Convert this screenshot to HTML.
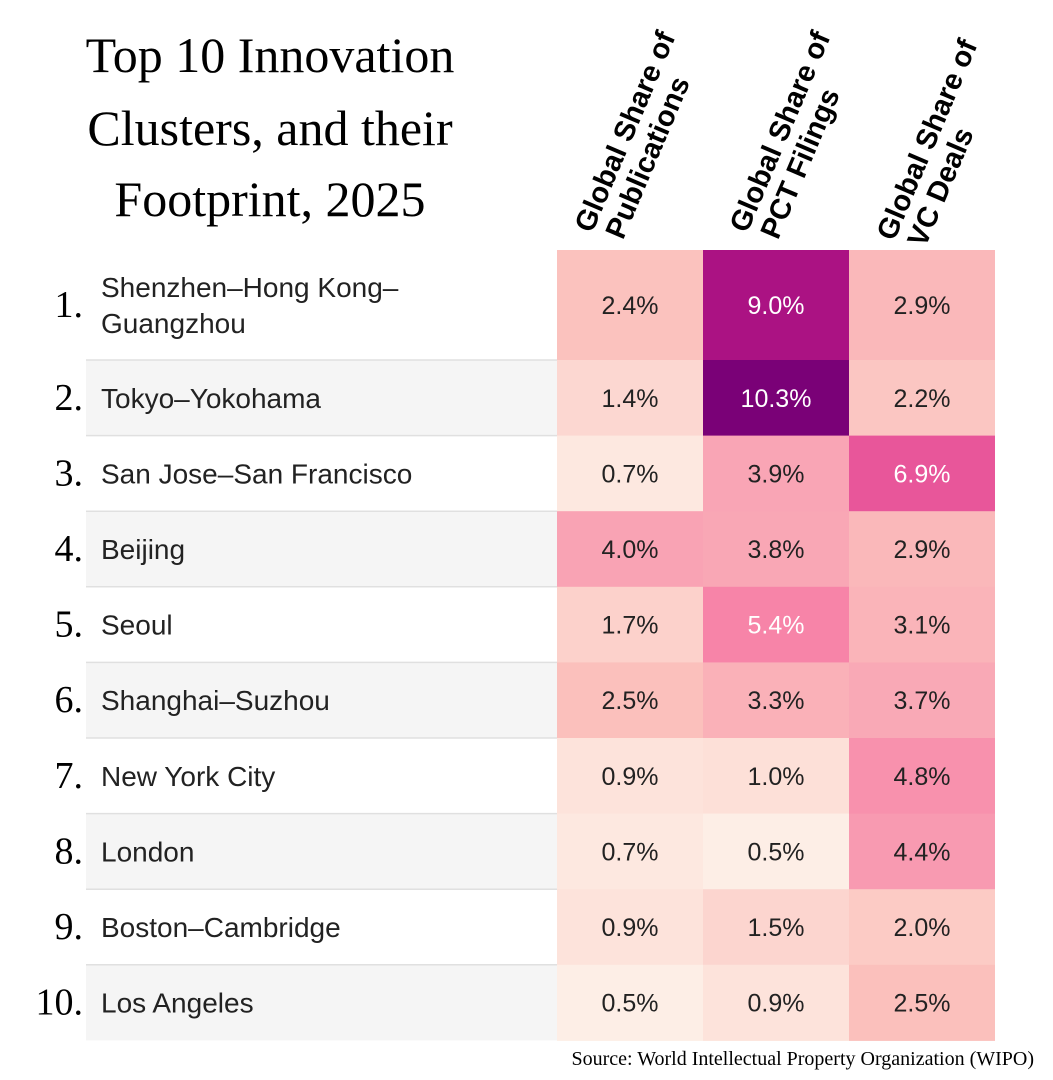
<!DOCTYPE html>
<html><head><meta charset="utf-8">
<style>
body{margin:0;background:#fff;}
svg{display:block}
</style></head>
<body>
<svg id="chart" width="1053" height="1080" xmlns="http://www.w3.org/2000/svg">
<g font-family="Liberation Serif, serif" font-size="50" fill="#000" text-anchor="middle">
<text x="270" y="72">Top 10 Innovation</text>
<text x="270" y="145">Clusters, and their</text>
<text x="270" y="216">Footprint, 2025</text>
</g>
<g id="rows"></g>
<g id="headers"></g>
<text x="1034" y="1065" text-anchor="end" font-family="Liberation Serif, serif" font-size="20" fill="#000">Source: World Intellectual Property Organization (WIPO)</text>
</svg>
<script>
const clusters = ["Shenzhen\u2013Hong Kong\u2013|Guangzhou","Tokyo\u2013Yokohama","San Jose\u2013San Francisco","Beijing","Seoul","Shanghai\u2013Suzhou","New York City","London","Boston\u2013Cambridge","Los Angeles"];
const publications = [2.4,1.4,0.7,4.0,1.7,2.5,0.9,0.7,0.9,0.5];
const pctFilings = [9.0,10.3,3.9,3.8,5.4,3.3,1.0,0.5,1.5,0.9];
const vcDeals = [2.9,2.2,6.9,2.9,3.1,3.7,4.8,4.4,2.0,2.5];
const columnTitles = [["Global Share of","Publications"],["Global Share of","PCT Filings"],["Global Share of","VC Deals"]];

const NS="http://www.w3.org/2000/svg";
const stops=[[0.5,[253,238,230]],[1.0,[253,224,216]],[2.5,[251,192,188]],[4.0,[249,163,180]],[5.4,[247,132,168]],[6.9,[232,86,154]],[9.0,[171,18,131]],[10.3,[122,1,119]]];
function color(v){
  if(v<=stops[0][0])return `rgb(${stops[0][1]})`;
  for(let i=1;i<stops.length;i++){
    if(v<=stops[i][0]){const a=stops[i-1],b=stops[i],t=(v-a[0])/(b[0]-a[0]);
      return `rgb(${a[1].map((c,k)=>Math.round(c+(b[1][k]-c)*t)).join(',')})`;}
  }
  return `rgb(${stops[stops.length-1][1]})`;
}
const colX=[557,703,849], colW=146;
function rowY(i){return i===0?250:360+(i-1)*75.6;}
function rowH(i){return i===0?110:75.6;}
function el(tag,attrs,parent){const e=document.createElementNS(NS,tag);for(const k in attrs)e.setAttribute(k,attrs[k]);parent.appendChild(e);return e;}
const rows=document.getElementById('rows');
const series=[publications,pctFilings,vcDeals];
clusters.forEach((name,i)=>{
  const y=rowY(i),h=rowH(i),cy=y+h/2;
  const g=el('g',{},rows);
  
  
  const bg=el('rect',{x:86,y:y,width:471,height:h,fill:i%2===1?'#f5f5f5':'#fff'},g);
  
  
  if(i>0){const ln=el('line',{x1:86,x2:557,y1:y,y2:y,stroke:'#e0e0e0','stroke-width':1.5},g);
    
    }
  const num=el('text',{x:83,y:cy+12,'text-anchor':'end','font-family':'Liberation Serif, serif','font-size':38,fill:'#000'},g);
  num.textContent=(i+1)+'.';
  
  
  const parts=name.split('|');
  const lbl=el('text',{x:101,'font-family':'Liberation Sans, sans-serif','font-size':28,fill:'#222'},g);
  
  
  parts.forEach((p,k)=>{const ts=el('tspan',{x:101,y:cy+10+(k-(parts.length-1)/2)*36},lbl);ts.textContent=p;});
  series.forEach((s,c)=>{
    const v=s[i];
    const r=el('rect',{x:colX[c],y:y,width:colW,height:h+0.5,fill:color(v)},g);
    
    
    const t=el('text',{x:colX[c]+colW/2,y:cy+9,'text-anchor':'middle','font-family':'Liberation Sans, sans-serif','font-size':25,fill:v>5?'#fff':'#222'},g);
    t.textContent=v.toFixed(1)+'%';
    
    
  });
});
const hdr=document.getElementById('headers');
const anchors=[[592,234],[747,234],[894,242]];
columnTitles.forEach((lines,c)=>{
  const t=el('text',{transform:`translate(${anchors[c][0]},${anchors[c][1]}) rotate(-67)`,'font-family':'Liberation Sans, sans-serif','font-weight':'bold','font-size':29,fill:'#000'},hdr);
  
  
  lines.forEach((l,k)=>{const ts=el('tspan',{x:k*6,y:k*31},t);ts.textContent=l;});
});
</script>
</body></html>
